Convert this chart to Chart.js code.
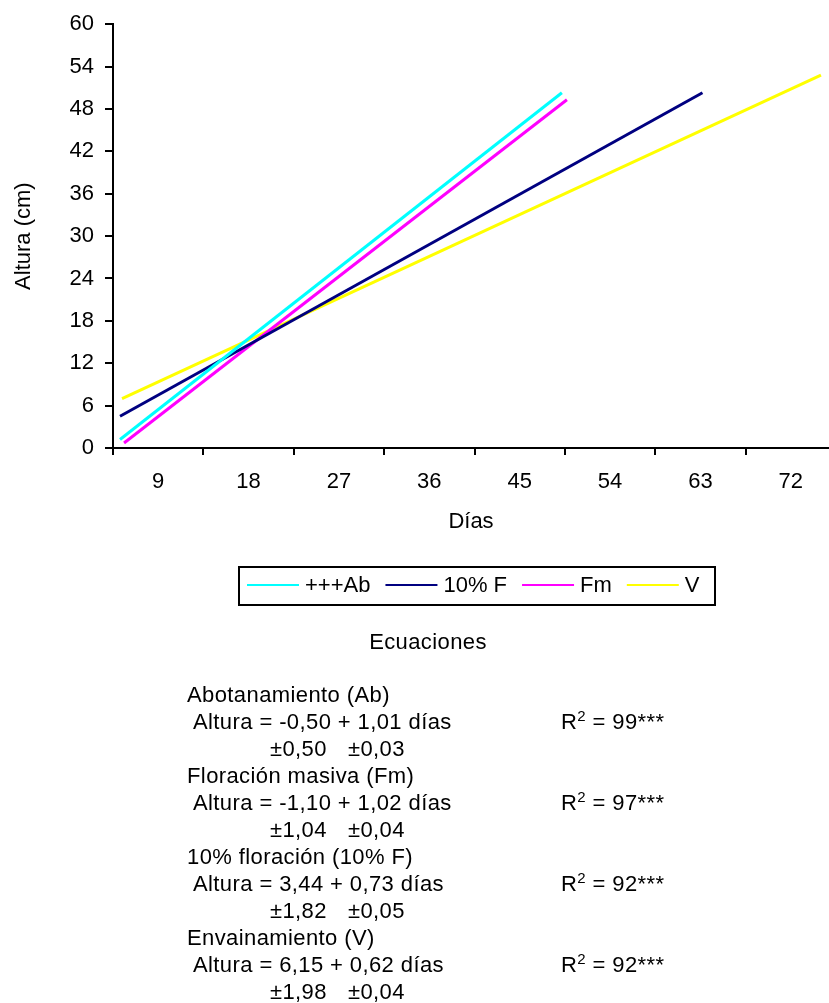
<!DOCTYPE html>
<html>
<head>
<meta charset="utf-8">
<title>Altura vs Días</title>
<script src="https://cdn.jsdelivr.net/npm/chart.js@4.4.0/dist/chart.umd.min.js"></script>
<style>
body { margin: 0; background: #fff; }
#wrap { position: relative; width: 829px; height: 1003px; overflow: hidden;
        font-family: 'Liberation Sans', Arial, sans-serif; font-size: 22px; color: #000; }
#myChart { position: absolute; left: 0; top: 0; }
.t { position: absolute; line-height: 27px; white-space: nowrap; letter-spacing: 0.4px; }
.sup { font-size: 15px; position: relative; top: -8px; line-height: 0; }
</style>
</head>
<body>
<div id="wrap">
<canvas id="myChart" width="829" height="1003"></canvas>

<div class="t" style="left:328px;top:628px;width:200px;text-align:center">Ecuaciones</div>

<div class="t" style="left:187px;top:681px">Abotanamiento (Ab)</div>
<div class="t" style="left:193px;top:708px">Altura = -0,50 + 1,01 días</div>
<div class="t" style="left:561px;top:708px">R<span class="sup">2</span> = 99***</div>
<div class="t" style="left:270px;top:735px">±0,50</div>
<div class="t" style="left:348px;top:735px">±0,03</div>

<div class="t" style="left:187px;top:762px">Floración masiva (Fm)</div>
<div class="t" style="left:193px;top:789px">Altura = -1,10 + 1,02 días</div>
<div class="t" style="left:561px;top:789px">R<span class="sup">2</span> = 97***</div>
<div class="t" style="left:270px;top:816px">±1,04</div>
<div class="t" style="left:348px;top:816px">±0,04</div>

<div class="t" style="left:187px;top:843px">10% floración (10% F)</div>
<div class="t" style="left:193px;top:870px">Altura = 3,44 + 0,73 días</div>
<div class="t" style="left:561px;top:870px">R<span class="sup">2</span> = 92***</div>
<div class="t" style="left:270px;top:897px">±1,82</div>
<div class="t" style="left:348px;top:897px">±0,05</div>

<div class="t" style="left:187px;top:924px">Envainamiento (V)</div>
<div class="t" style="left:193px;top:951px">Altura = 6,15 + 0,62 días</div>
<div class="t" style="left:561px;top:951px">R<span class="sup">2</span> = 92***</div>
<div class="t" style="left:270px;top:978px">±1,98</div>
<div class="t" style="left:348px;top:978px">±0,04</div>
</div>

<script>
// datos (inicio y fin de cada recta)
const serieNames = ['+++Ab', '10% F', 'Fm', 'V'];
const serieColors = ['#00FFFF', '#000080', '#FF00FF', '#FFFF00'];

const abX = [5.2, 49.2];
const abY = [1.2, 50.3];
const f10X = [5.2, 63.2];
const f10Y = [4.5, 50.3];
const fmX = [5.6, 49.7];
const fmY = [0.7, 49.3];
const vX = [5.4, 75.0];
const vY = [7.0, 52.8];

const xTicks = [9, 18, 27, 36, 45, 54, 63, 72];
const yTicks = [0, 6, 12, 18, 24, 30, 36, 42, 48, 54, 60];

function toPoints(xs, ys) {
    return xs.map((x, i) => ({ x: x, y: ys[i] }));
}

const seriesX = [abX, f10X, fmX, vX];
const seriesY = [abY, f10Y, fmY, vY];

var datasets = serieNames.map((name, i) => ({
    label: name,
    data: toPoints(seriesX[i], seriesY[i]),
    borderColor: serieColors[i],
    backgroundColor: serieColors[i],
    borderWidth: 3,
    pointRadius: 0,
    tension: 0,
    fill: false
}));

// leyenda con recuadro, como en el original
const legendBox = {
    id: 'legendBox',
    afterDraw(chart) {
        const ctx = chart.ctx;
        ctx.save();
        ctx.lineWidth = 2;
        ctx.strokeStyle = '#000';
        ctx.strokeRect(239, 567, 476, 38);
        ctx.font = '22px "Liberation Sans", Arial, sans-serif';
        ctx.textBaseline = 'middle';
        ctx.fillStyle = '#000';
        var x = 247;
        chart.data.datasets.forEach(ds => {
            ctx.strokeStyle = ds.borderColor;
            ctx.lineWidth = 2;
            ctx.beginPath();
            ctx.moveTo(x, 585);
            ctx.lineTo(x + 52, 585);
            ctx.stroke();
            x += 58;
            ctx.fillText(ds.label, x, 586);
            x += ctx.measureText(ds.label).width + 15;
        });
        ctx.restore();
    }
};

Chart.defaults.font.family = "'Liberation Sans', Arial, sans-serif";
Chart.defaults.font.size = 22;
Chart.defaults.color = '#000';

var config = {
    type: 'line',
    data: { datasets: datasets },
    options: {
        responsive: false,
        animation: false,
        layout: { padding: { top: 19, right: 0, bottom: 439, left: 0 } },
        plugins: {
            legend: { display: false },
            tooltip: { enabled: false }
        },
        scales: {
            x: {
                type: 'linear',
                min: 4.5,
                max: 75.8,
                afterBuildTicks: (scale) => { scale.ticks = xTicks.map(v => ({ value: v })); },
                afterFit: (scale) => { scale.height = 116; },
                grid: { offset: true, drawOnChartArea: false, tickLength: 7, color: '#000', lineWidth: 2 },
                border: { color: '#000', width: 2 },
                ticks: { padding: 14, maxRotation: 0, autoSkip: false },
                title: { display: true, text: 'Días', padding: { top: 4, bottom: 29 } }
            },
            y: {
                min: 0,
                max: 60,
                afterBuildTicks: (scale) => { scale.ticks = yTicks.map(v => ({ value: v })); },
                afterFit: (scale) => { scale.width = 113; },
                grid: { drawOnChartArea: false, tickLength: 8, color: '#000', lineWidth: 2 },
                border: { color: '#000', width: 2 },
                ticks: { padding: 11 },
                title: { display: true, text: 'Altura (cm)', padding: { top: 11, bottom: 0 } }
            }
        }
    },
    plugins: [legendBox]
};

var ctx = document.getElementById('myChart').getContext('2d');
var myChart = new Chart(ctx, config);
</script>
</body>
</html>
